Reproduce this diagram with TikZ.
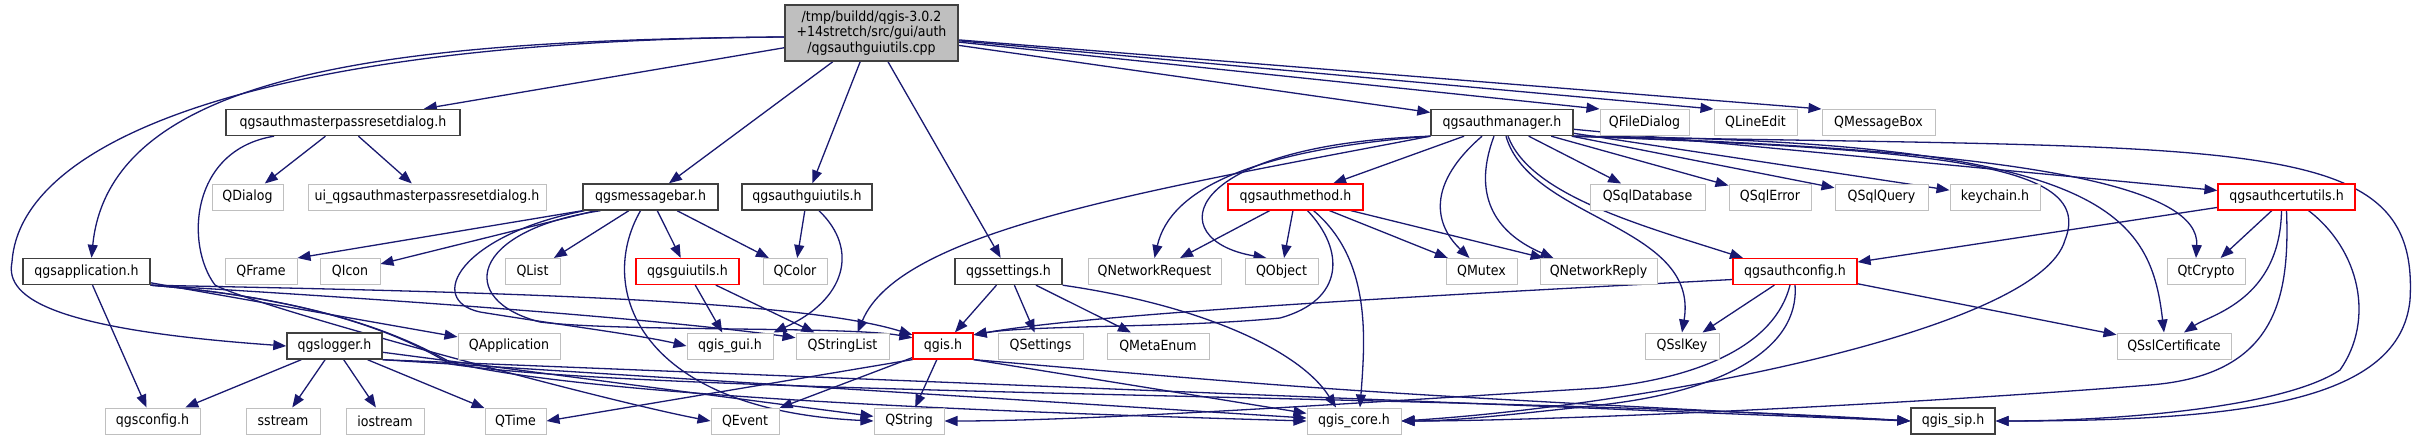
\documentclass[tikz,border=0pt]{standalone}
\usepackage{fontspec}
\setmainfont{DejaVu Sans}[FakeStretch=0.9]
\usetikzlibrary{arrows.meta}
\definecolor{cedge}{HTML}{191970}
\definecolor{cgrey}{HTML}{BFBFBF}
\definecolor{cdoc}{HTML}{404040}
\pgfdeclarelayer{front}
\pgfsetlayers{main,front}

\begin{document}
\begin{tikzpicture}[x=1pt, y=1pt,
  font=\fontsize{14}{15.5}\selectfont,
  file/.style={draw=cgrey, fill=white, line width=1pt, minimum height=26,
               inner sep=0pt, text=black},
  doc/.style={file, draw=cdoc, line width=1.4pt},
  bad/.style={file, draw=red, line width=1.2pt},
  root/.style={doc, fill=cgrey, align=center, minimum height=56},
  bw/.style={minimum width=#1},
  dep/.style={draw=cedge, line width=1.3pt,
              -{Triangle[length=13pt,width=10pt,fill=cedge]}}
]
\useasboundingbox (0,0) rectangle (2420,-440);

\begin{pgfonlayer}{front}
% source file
\node[root, bw=173] (src) at (871.5,-33) {/tmp/buildd/qgis-3.0.2\\+14stretch/src/gui/auth\\/qgsauthguiutils.cpp};

% level 1
\node[doc, bw=234] (rdlg) at (343,-122.5) {qgsauthmasterpassresetdialog.h};
\node[doc, bw=142] (authmgr) at (1502,-122.5) {qgsauthmanager.h};
\node[file, bw=89] (qfiledlg) at (1644.5,-122.5) {QFileDialog};
\node[file, bw=83] (qlineedit) at (1755.5,-122.5) {QLineEdit};
\node[file, bw=113] (qmsgbox) at (1878.5,-122.5) {QMessageBox};

% level 2
\node[file, bw=71] (qdialog) at (247.5,-197) {QDialog};
\node[file, bw=238] (uidlg) at (427,-197) {ui\_qgsauthmasterpassresetdialog.h};
\node[doc, bw=135] (msgbar) at (650.5,-197) {qgsmessagebar.h};
\node[doc, bw=130] (authgui) at (807,-197) {qgsauthguiutils.h};
\node[bad, bw=135] (authmeth) at (1295.5,-197) {qgsauthmethod.h};
\node[file, bw=115] (qsqldb) at (1647.5,-197) {QSqlDatabase};
\node[file, bw=82] (qsqlerr) at (1770,-197) {QSqlError};
\node[file, bw=93] (qsqlquery) at (1881.5,-197) {QSqlQuery};
\node[file, bw=90] (keychain) at (1995,-197) {keychain.h};
\node[bad, bw=137] (certutils) at (2286.5,-197) {qgsauthcertutils.h};

% level 3
\node[doc, bw=127] (app) at (86.5,-271.5) {qgsapplication.h};
\node[file, bw=72] (qframe) at (261,-271.5) {QFrame};
\node[file, bw=60] (qicon) at (350,-271.5) {QIcon};
\node[file, bw=55] (qlist) at (532.5,-271.5) {QList};
\node[bad, bw=103] (guiutils) at (687.5,-271.5) {qgsguiutils.h};
\node[file, bw=64] (qcolor) at (795,-271.5) {QColor};
\node[doc, bw=107] (settings) at (1008.5,-271.5) {qgssettings.h};
\node[file, bw=133] (qnetreq) at (1154.5,-271.5) {QNetworkRequest};
\node[file, bw=73] (qobject) at (1281.5,-271.5) {QObject};
\node[file, bw=71] (qmutex) at (1481.5,-271.5) {QMutex};
\node[file, bw=117] (qnetreply) at (1598.5,-271.5) {QNetworkReply};
\node[bad, bw=124] (authcfg) at (1795,-271.5) {qgsauthconfig.h};
\node[file, bw=78] (qtcrypto) at (2206,-271.5) {QtCrypto};

% level 4
\node[doc, bw=95] (logger) at (334.5,-346) {qgslogger.h};
\node[file, bw=102] (qapp) at (509,-346) {QApplication};
\node[file, bw=86] (qgisgui) at (730,-346) {qgis\_gui.h};
\node[file, bw=93] (qstrlist) at (842.5,-346) {QStringList};
\node[bad, bw=60] (qgish) at (943,-346) {qgis.h};
\node[file, bw=85] (qsettings) at (1040.5,-346) {QSettings};
\node[file, bw=102] (qmetaenum) at (1158,-346) {QMetaEnum};
\node[file, bw=74] (qsslkey) at (1682,-346) {QSslKey};
\node[file, bw=114] (qsslcert) at (2174,-346) {QSslCertificate};

% level 5
\node[file, bw=95] (qgscfg) at (152.5,-421) {qgsconfig.h};
\node[file, bw=74] (sstream) at (283,-421) {sstream};
\node[file, bw=78] (iostream) at (385,-421) {iostream};
\node[file, bw=61] (qtime) at (515.5,-421) {QTime};
\node[file, bw=68] (qevent) at (745,-421) {QEvent};
\node[file, bw=70] (qstring) at (909,-421) {QString};
\node[file, bw=94] (qgiscore) at (1354,-421) {qgis\_core.h};
\node[doc, bw=84] (qgissip) at (1953,-421) {qgis\_sip.h};
\end{pgfonlayer}

% includes of the source file
\draw[dep] (src) -- (rdlg);
\draw[dep] (src) -- (msgbar);
\draw[dep] (src) -- (authgui);
\draw[dep] (src) -- (settings);
\draw[dep] (src) -- (authmgr);
\draw[dep] (src) -- (qfiledlg.north west);
\draw[dep] (src) -- (qlineedit.north west);
\draw[dep] (src) -- (qmsgbox.north west);
\draw[dep] ([yshift=-4pt]src.west) .. controls (400,-40) and (110,-70) .. ([xshift=5pt]app.north);
\draw[dep] ([yshift=-4pt]src.west) .. controls (260,-40) and (20,-140) .. (12,-262)
  .. controls (4,-300) and (60,-330) .. (logger.west);

% qgsauthmasterpassresetdialog.h
\draw[dep] (rdlg) -- (qdialog);
\draw[dep] (rdlg) -- (uidlg);
\draw[dep] ([xshift=-69pt]rdlg.south) .. controls (190,-150) and (185,-245) .. (215,-285)
  .. controls (250,-305) and (600,-400) .. (qevent.west);

% qgsmessagebar.h
\draw[dep] (msgbar.south west) -- (qframe.north east);
\draw[dep] (msgbar) -- (qicon);
\draw[dep] (msgbar) -- (qlist);
\draw[dep] (msgbar) -- (guiutils);
\draw[dep] (msgbar) -- (qcolor);
\draw[dep] ([xshift=-66pt]msgbar.south) .. controls (460,-235) and (425,-300) .. (480,-312)
  .. controls (560,-325) and (640,-335) .. (qgisgui.west);
\draw[dep] ([xshift=-50pt]msgbar.south) .. controls (470,-230) and (455,-300) .. (540,-322)
  .. controls (620,-332) and (850,-326) .. (qgish.165);
\draw[dep] ([xshift=-10pt]msgbar.south) .. controls (595,-290) and (640,-410) .. (qstring.west);

% qgsauthguiutils.h
\draw[dep] (authgui) -- (qcolor);
\draw[dep] ([xshift=12pt]authgui.south) .. controls (860,-250) and (845,-300) .. (qgisgui.north east);

% qgsguiutils.h
\draw[dep] (guiutils) -- (qgisgui);
\draw[dep] (guiutils) -- (qstrlist);

% qgssettings.h
\draw[dep] (settings) -- (qgish);
\draw[dep] (settings) -- (qsettings);
\draw[dep] (settings) -- (qmetaenum);
\draw[dep] (settings.south east) .. controls (1200,-305) and (1300,-350) .. ([xshift=-18pt]qgiscore.north);

% qgis.h
\draw[dep] (qgish.south west) -- (qtime.east);
\draw[dep] (qgish) -- (qevent);
\draw[dep] (qgish) -- (qstring);
\draw[dep] (qgish.south east) -- (qgiscore);
\draw[dep] (qgish.south east) .. controls (1350,-392) .. (qgissip.west);

% qgslogger.h
\draw[dep] (logger) -- (qgscfg);
\draw[dep] (logger) -- (sstream);
\draw[dep] (logger) -- (iostream);
\draw[dep] (logger) -- (qtime);
\draw[dep] (logger) -- (qstring);
\draw[dep] (logger.south east) -- (qgiscore);
\draw[dep] (logger.south east) -- (qgissip.west);

% qgsapplication.h
\draw[dep] (app) -- (qgscfg);
\draw[dep] (app) -- (qapp);
\draw[dep] (app.south east) .. controls (400,-300) and (650,-318) .. (qstrlist.170);
\draw[dep] (app.south east) .. controls (500,-292) and (800,-300) .. (qgish.160);
\draw[dep] (app.south east) .. controls (330,-300) and (410,-340) .. (450,-362)
  .. controls (600,-400) and (1100,-415) .. (qgiscore.west);
\draw[dep] (app.south east) .. controls (330,-300) and (410,-340) .. (450,-364)
  .. controls (650,-395) and (1500,-395) .. (qgissip.west);

% qgsauthmanager.h
\draw[dep] (authmgr) -- (authmeth);
\draw[dep] (authmgr.south west) .. controls (1150,-190) and (900,-230) .. ([xshift=15pt]qstrlist.north);
\draw[dep] (authmgr.south west) .. controls (1250,-150) and (1170,-190) .. (qnetreq.north);
\draw[dep] (authmgr.south west) .. controls (1180,-145) and (1160,-240) .. ([xshift=-15pt]qobject.north);
\draw[dep] ([xshift=-20pt]authmgr.south) .. controls (1420,-190) and (1440,-230) .. ([xshift=-12pt]qmutex.north);
\draw[dep] ([xshift=-8pt]authmgr.south) .. controls (1470,-200) and (1500,-235) .. ([xshift=-45pt]qnetreply.north);
\draw[dep] ([xshift=4pt]authmgr.south) .. controls (1530,-220) and (1700,-225) .. (qsslkey.north);
\draw[dep] ([xshift=6pt]authmgr.south) .. controls (1530,-195) and (1640,-225) .. ([xshift=-52pt]authcfg.north);
\draw[dep] (authmgr) -- (qsqldb);
\draw[dep] (authmgr) -- (qsqlerr);
\draw[dep] (authmgr) -- (qsqlquery);
\draw[dep] (authmgr) -- (keychain);
\draw[dep] (authmgr) -- (certutils);
\draw[dep] (authmgr.south east) .. controls (2050,-150) and (2200,-190) .. ([xshift=-10pt]qtcrypto.north);
\draw[dep] (authmgr.south east) .. controls (2100,-140) and (2150,-210) .. ([xshift=-10pt]qsslcert.north);
\draw[dep] (authmgr.south east) .. controls (1950,-150) and (2095,-165) .. (2065,-240)
  .. controls (2040,-330) and (1650,-405) .. (qgiscore.east);
\draw[dep] (authmgr.south east) .. controls (2250,-150) and (2420,-130) .. (2410,-300)
  .. controls (2400,-400) and (2250,-421) .. (qgissip.east);

% qgsauthmethod.h
\draw[dep] (authmeth) -- (qnetreq);
\draw[dep] (authmeth) -- (qobject);
\draw[dep] (authmeth) -- (qmutex);
\draw[dep] (authmeth) -- (qnetreply);
\draw[dep] ([xshift=12pt]authmeth.south) .. controls (1345,-250) and (1345,-300) .. (1280,-318)
  .. controls (1180,-328) and (1030,-325) .. (qgish.20);
\draw[dep] ([xshift=18pt]authmeth.south) .. controls (1372,-260) and (1365,-340) .. ([xshift=6pt]qgiscore.north);

% qgsauthcertutils.h
\draw[dep] (certutils) -- (authcfg);
\draw[dep] (certutils) -- (qtcrypto);
\draw[dep] ([xshift=-5pt]certutils.south) .. controls (2280,-300) and (2210,-315) .. ([xshift=10pt]qsslcert.north);
\draw[dep] (certutils.south) .. controls (2290,-300) and (2275,-375) .. (2150,-385)
  .. controls (1900,-405) and (1550,-421) .. (qgiscore.east);
\draw[dep] ([xshift=22pt]certutils.south) .. controls (2360,-250) and (2375,-320) .. (2340,-370)
  .. controls (2280,-410) and (2100,-421) .. (qgissip.east);

% qgsauthconfig.h
\draw[dep] (authcfg) -- (qsslkey);
\draw[dep] (authcfg) -- (qsslcert);
\draw[dep] ([yshift=-8pt]authcfg.west) .. controls (1500,-292) and (1100,-312) .. (qgish.20);
\draw[dep] ([xshift=-5pt]authcfg.south) .. controls (1775,-345) and (1700,-378) .. (1600,-388)
  .. controls (1400,-400) and (1100,-421) .. (qstring.east);
\draw[dep] (authcfg.south) .. controls (1800,-350) and (1720,-392) .. (1600,-405)
  .. controls (1500,-416) and (1450,-421) .. (qgiscore.east);
\end{tikzpicture}
\end{document}
